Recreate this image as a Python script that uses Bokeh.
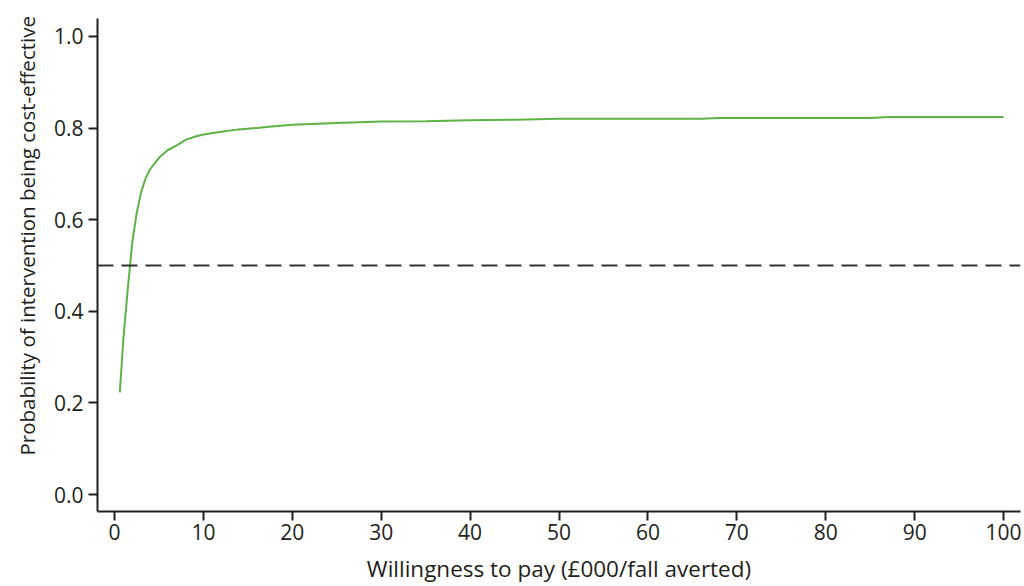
from bokeh.plotting import figure
from bokeh.models import Span, Title, FixedTicker, Range1d
from bokeh.embed import file_html
from bokeh.resources import INLINE

# Data
wtp = [0.6, 1.0, 1.5, 2.0, 2.5, 3.0, 3.5, 4.0, 5.0, 6.0, 7.0, 8.0, 9.0, 10.0,
       12.0, 14.0, 16.0, 18.0, 20.0, 25.0, 30.0, 35.0, 40.0, 45.0, 50.0,
       60.0, 66.0, 68.0, 70.0, 80.0, 85.0, 87.0, 90.0, 100.0]
prob = [0.223, 0.34, 0.45, 0.55, 0.615, 0.66, 0.69, 0.71, 0.735, 0.752, 0.762,
        0.774, 0.781, 0.786, 0.792, 0.797, 0.800, 0.804, 0.807, 0.811, 0.814,
        0.815, 0.817, 0.818, 0.820, 0.820, 0.820, 0.822, 0.822, 0.822, 0.822,
        0.824, 0.824, 0.824]
threshold = 0.5
x_ticks = [0, 10, 20, 30, 40, 50, 60, 70, 80, 90, 100]
y_ticks = [0.0, 0.2, 0.4, 0.6, 0.8, 1.0]
y_tick_labels = ["0.0", "0.2", "0.4", "0.6", "0.8", "1.0"]
x_title = "Willingness to pay (£000/fall averted)"
y_title = "Probability of intervention being cost-effective"

FONT = "Open Sans"
TXT = "#231f20"

p = figure(width=1024, height=586, output_backend="svg", toolbar_location=None,
           x_range=Range1d(-1.91, 101.9), y_range=Range1d(-0.037, 1.039),
           min_border_left=97, min_border_right=4, min_border_top=18,
           min_border_bottom=75)
p.outline_line_color = None
p.grid.visible = False
p.background_fill_color = "white"
p.border_fill_color = "white"

p.line(wtp, prob, line_color="#5fb346", line_width=2)
p.add_layout(Span(location=threshold, dimension="width", line_color="#333333",
                  line_width=2, line_dash="16 8"))

for ax in (p.xaxis[0], p.yaxis[0]):
    ax.axis_line_color = TXT
    ax.axis_line_width = 2
    ax.major_tick_line_color = TXT
    ax.major_tick_line_width = 2
    ax.major_tick_out = 9
    ax.major_tick_in = 0
    ax.minor_tick_line_color = None
    ax.major_label_text_font = FONT
    ax.major_label_text_font_size = "21px"
    ax.major_label_text_color = TXT

p.xaxis.ticker = FixedTicker(ticks=x_ticks)
p.xaxis.major_label_standoff = 3
p.xaxis.axis_label = x_title
p.xaxis.axis_label_text_font = FONT
p.xaxis.axis_label_text_font_size = "22.5px"
p.xaxis.axis_label_text_font_style = "normal"
p.xaxis.axis_label_text_color = TXT
p.xaxis.axis_label_standoff = 10

p.yaxis.ticker = FixedTicker(ticks=y_ticks)
p.yaxis.major_label_overrides = {t: s for t, s in zip(y_ticks, y_tick_labels)}
p.yaxis.major_label_standoff = 5

p.add_layout(Title(text=y_title, align="left", offset=56, standoff=19,
                   text_font=FONT, text_font_size="20.5px",
                   text_font_style="normal", text_color=TXT), "left")

open("out.html", "w").write(file_html(p, INLINE))
